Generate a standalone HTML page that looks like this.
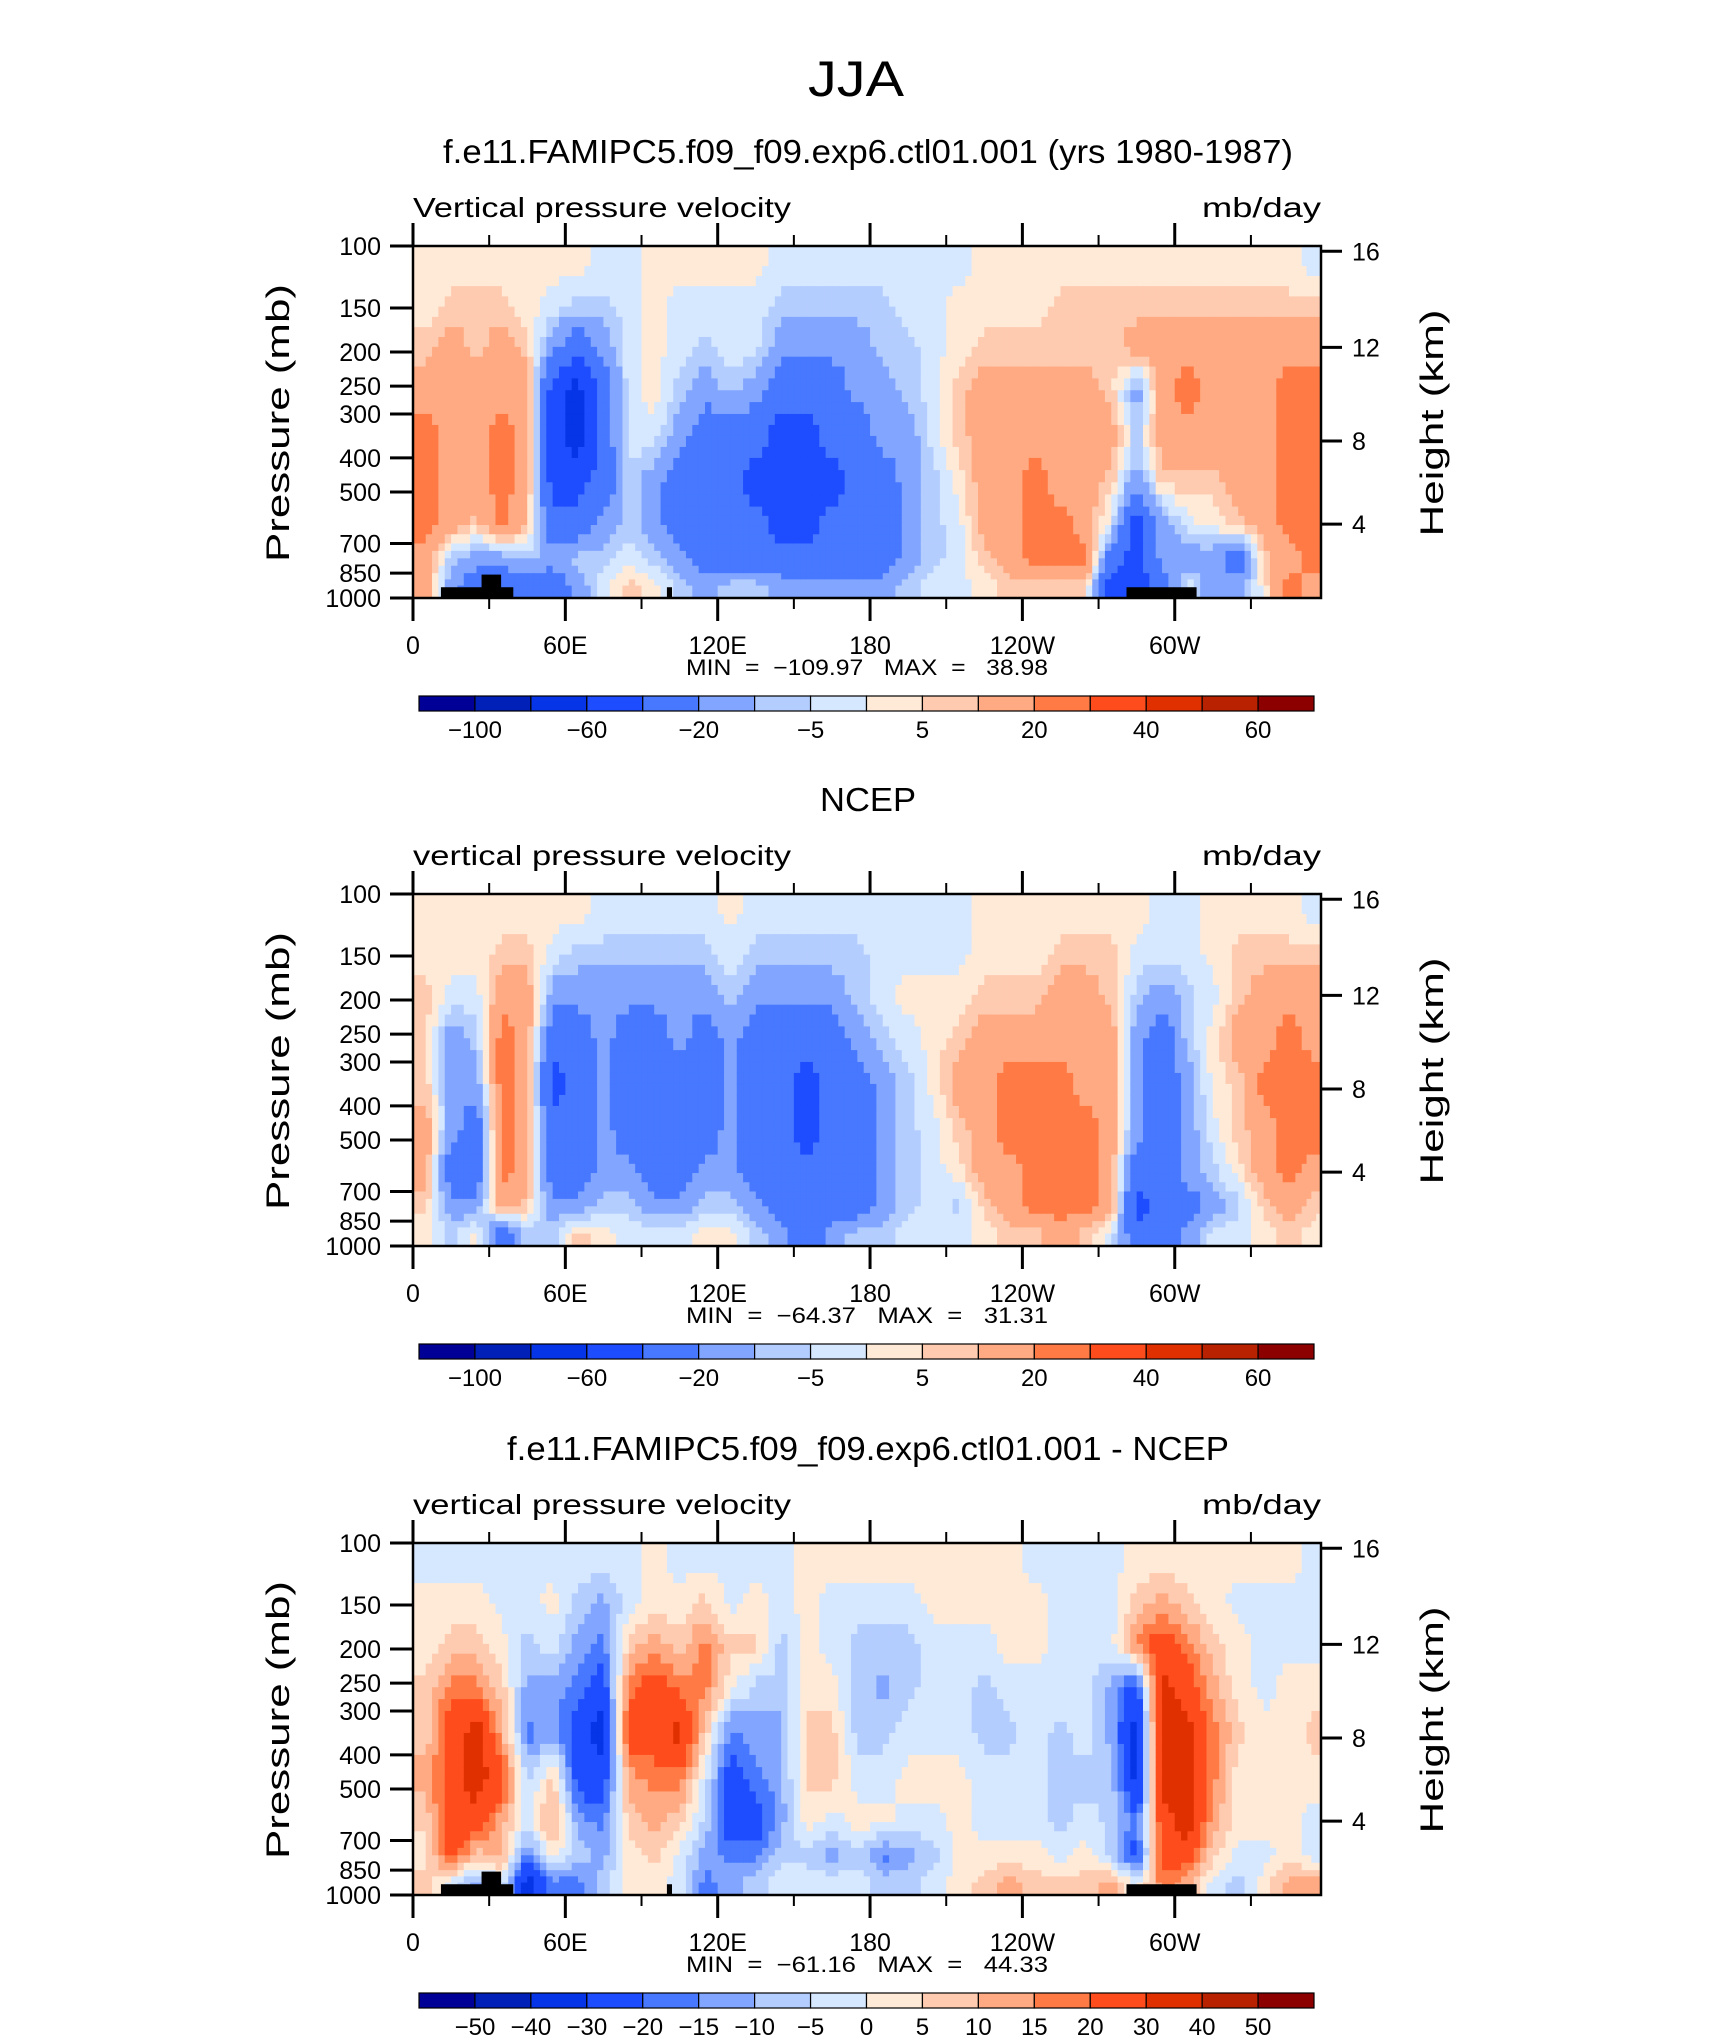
<!DOCTYPE html>
<html><head><meta charset="utf-8"><title>JJA vertical pressure velocity</title>
<style>
html,body{margin:0;padding:0;background:#fff;}
svg{display:block;font-family:"Liberation Sans",sans-serif;}
</style></head>
<body>
<svg id="fig" width="1710" height="2038" viewBox="0 0 1710 2038" xmlns="http://www.w3.org/2000/svg">
<rect x="0" y="0" width="1710" height="2038" fill="#fff"/>
<text x="856" y="96" font-size="50" text-anchor="middle" textLength="96" lengthAdjust="spacingAndGlyphs">JJA</text>
</svg>
<script>
const lonCenters = [5,15,25,35,45,55,65,75,85,95,105,115,125,135,145,155,165,175,185,195,205,215,225,235,245,255,265,275,285,295,305,315,325,335,345,355];
const pressureEdges = [100,130,170,220,300,400,550,700,850,1000];
const pressureTicks = [100,150,200,250,300,400,500,700,850,1000];
const heightTicks = [16,12,8,4];
const heightTickFrac = [0.015,0.288,0.554,0.79];
const lonTicks = [0,60,120,180,240,300];
const lonTickLabels = ['0','60E','120E','180','120W','60W'];
const lonMinorTicks = [30,90,150,210,270,330];
const levelsAbs = [-100,-80,-60,-40,-20,-10,-5,0,5,10,20,30,40,50,60];
const levelsAbsLabels = ['-100','-60','-20','-5','5','20','40','60'];
const levelsDiff = [-50,-40,-30,-20,-15,-10,-5,0,5,10,15,20,30,40,50];
const levelsDiffLabels = ['-50','-40','-30','-20','-15','-10','-5','0','5','10','15','20','30','40','50'];
const palette = ['#000096','#0020b8','#0535e6','#1e4cff','#4778ff','#82a6ff','#b4cdff','#d6e8ff','#ffead8','#ffcbb0','#ffaa82','#ff7a45','#ff4c1c','#e03000','#b82200','#8c0000'];

// column-major: each inner array = 9 pressure rows top (100mb) to bottom (1000mb)
const modelOmega = [
[2,2,7,15,25,25,25,15,15],[2,7,15,15,15,15,15,-7,-15],[2,7,7,15,15,15,7,-15,-30],[2,7,15,15,25,25,25,-15,-30],
[2,2,7,15,15,15,7,-7,-30],[2,-2,-15,-50,-50,-50,-30,-15,-30],[2,-7,-30,-70,-70,-50,-30,-7,-15],[-2,-7,-15,-30,-30,-30,-15,-7,-2],
[-2,-2,-2,-2,-2,-7,-7,-2,7],[2,2,2,2,-2,-15,-15,-7,2],[2,-2,-2,-7,-15,-30,-30,-15,-7],[2,-2,-7,-15,-30,-30,-30,-30,-15],
[2,-2,-2,-7,-30,-30,-30,-30,-7],[2,-2,-2,-15,-30,-50,-30,-30,-7],[-2,-7,-15,-30,-50,-50,-50,-30,-15],[-2,-7,-15,-30,-50,-50,-50,-30,-15],
[-2,-7,-15,-30,-30,-50,-30,-30,-15],[-2,-7,-15,-15,-30,-30,-30,-30,-15],[-2,-7,-7,-15,-15,-30,-30,-30,-15],[-2,-2,-7,-7,-15,-15,-15,-15,-7],
[-2,-2,-2,-2,-2,-7,-7,-7,-2],[-2,2,2,7,7,2,-2,-2,-2],[2,2,7,15,15,15,15,7,2],[2,2,7,15,15,15,15,15,7],
[2,2,7,15,15,25,25,25,7],[2,7,7,15,15,15,25,25,7],[2,7,7,15,15,15,15,25,7],[2,7,7,7,15,7,-2,-30,-50],
[2,7,15,-15,-7,-15,-50,-50,-50],[2,7,15,15,15,7,-15,-15,-30],[2,7,15,25,15,7,-2,-15,-2],[2,7,15,15,15,7,2,-15,-15],
[2,7,15,15,15,15,7,-30,-15],[2,7,15,15,15,15,15,7,2],[2,7,15,25,25,25,25,15,25],[-2,7,15,25,25,25,25,25,15]];
const ncepOmega = [
[2,2,7,7,7,15,15,7,2],[2,2,-2,-15,-15,-15,-30,-15,-7],[2,2,-2,-7,-15,-30,-30,-15,2],[2,7,15,25,25,25,25,15,-30],
[2,7,15,15,15,15,15,7,-7],[2,-2,-15,-30,-50,-30,-30,-15,-7],[2,-7,-15,-30,-30,-30,-30,-15,7],[-2,-7,-15,-15,-15,-15,-15,-7,2],
[-2,-7,-15,-30,-30,-30,-15,-7,-2],[-2,-7,-15,-30,-30,-30,-30,-15,-2],[-2,-7,-15,-15,-30,-30,-30,-15,-2],[-2,-7,-15,-30,-30,-30,-15,-7,2],
[2,-2,-7,-15,-15,-15,-15,-7,2],[-2,-7,-15,-30,-30,-30,-30,-15,-7],[-2,-7,-15,-30,-30,-30,-30,-30,-15],[-2,-7,-15,-30,-50,-50,-30,-30,-30],
[-2,-7,-15,-30,-30,-30,-30,-30,-15],[-2,-7,-7,-15,-30,-30,-30,-30,-7],[-2,-2,-2,-7,-15,-15,-15,-15,-7],[-2,-2,2,-2,-7,-7,-7,-7,-2],
[-2,-2,2,2,2,-2,-2,-2,-2],[-2,-2,2,7,15,7,2,-7,-2],[2,2,7,15,15,15,15,7,2],[2,2,7,15,25,25,15,15,7],
[2,2,7,15,25,25,25,25,7],[2,7,15,15,25,25,25,25,15],[2,7,15,15,15,25,25,25,7],[2,7,7,15,15,15,15,15,-2],
[2,-2,-7,-15,-15,-15,-30,-50,-30],[-2,-2,-15,-30,-30,-30,-30,-30,-30],[-2,-2,-7,-7,-15,-15,-15,-30,-15],[2,2,-2,2,2,-2,-7,-15,-2],
[2,7,7,15,7,7,2,-7,-2],[2,7,15,15,25,15,15,7,2],[2,7,15,25,25,25,25,15,7],[-2,7,15,15,25,25,15,7,2]];
const diffOmega = [
[-2,2,2,7,7,12,7,2,7],[-2,2,7,17,25,25,25,25,-2],[-2,2,7,17,35,35,25,7,-12],[-2,-2,2,7,12,25,12,12,-2],
[-2,-2,-7,-12,-17,-7,-2,-17,-35],[-2,2,-2,-12,-12,7,12,2,-17],[-2,-7,-12,-17,-25,-25,-12,-7,-17],[-2,-12,-17,-25,-35,-25,-17,-12,-7],
[-2,-2,7,17,25,12,7,2,2],[2,2,12,25,25,17,12,7,2],[-2,2,7,17,35,17,7,-2,-2],[-2,7,17,17,7,-2,-7,-12,-17],
[-2,-2,7,2,-17,-25,-25,-17,-12],[-2,2,7,-7,-12,-17,-25,-17,-7],[-2,-2,-7,-7,-12,-12,-12,-7,-2],[2,2,2,2,7,7,2,-7,-2],
[2,-2,-2,2,7,7,-2,-12,-2],[2,-2,-7,-7,-7,-2,2,-7,-2],[2,-2,-7,-12,-7,-2,2,-17,-7],[2,-2,-7,-7,-2,2,-2,-12,-7],
[2,2,-2,-2,-2,2,-2,-7,-2],[2,2,-2,-2,-2,2,2,2,2],[2,2,-2,-7,-7,-2,-2,2,7],[2,2,2,-2,-7,-2,-2,2,12],
[-2,2,2,-2,-2,-2,-2,2,7],[-2,-2,-2,-2,-7,-7,-7,-2,7],[-2,-2,-2,-2,-2,-7,-2,2,7],[-2,-2,-2,-12,-12,-7,-7,-7,12],
[2,7,17,-25,-35,-35,-17,-25,-2],[2,12,25,35,35,35,25,25,17],[2,7,17,25,35,35,35,25,12],[2,2,7,12,17,17,12,7,-2],
[2,-2,2,2,7,2,2,-2,-7],[2,-2,-2,-2,2,2,2,-2,2],[2,-2,-2,2,2,2,2,2,12],[-2,-2,-2,2,7,2,-2,-2,12]];
// topography blocks: [lon start, lon end, top pressure]
const topoLon0 = [11,27,100,281];
const topoLon1 = [39.5,34.7,102,308.6];
const topoTopP = [932,858,932,932];

const NS='http://www.w3.org/2000/svg';
const svg=document.getElementById('fig');
const PL=413, PR=1321, PH=352, LONMAX=357.6;
function mk(tag,attrs,parent){const e=document.createElementNS(NS,tag);for(const k in attrs)e.setAttribute(k,attrs[k]);(parent||svg).appendChild(e);return e;}
function xS(lon){return PL+(lon/LONMAX)*(PR-PL);}
function yS(p,top){return top+(Math.log10(p)-2)*PH;}
function cls(v,levels){let i=0;while(i<levels.length&&v>=levels[i])i++;return i;}
const rowCenterLog=[];for(let r=0;r<9;r++)rowCenterLog.push((Math.log10(pressureEdges[r])+Math.log10(pressureEdges[r+1]))/2);
function sample(data,lon,lp){
  let fx=(lon-lonCenters[0])/(lonCenters[1]-lonCenters[0]);fx=Math.max(0,Math.min(lonCenters.length-1,fx));
  let c0=Math.min(Math.floor(fx),lonCenters.length-2),tx=fx-c0;
  let r0=0;while(r0<7&&lp>rowCenterLog[r0+1])r0++;
  let ty=(lp-rowCenterLog[r0])/(rowCenterLog[r0+1]-rowCenterLog[r0]);ty=Math.max(0,Math.min(1,ty));
  const a=data[c0][r0],b=data[c0+1][r0],c=data[c0][r0+1],d=data[c0+1][r0+1];
  return (a*(1-tx)+b*tx)*(1-ty)+(c*(1-tx)+d*tx)*ty;
}
function txt(x,y,s,size,anchor,name,parent,extra){
  const t=mk('text',Object.assign({x:x,y:y,'font-size':size,'text-anchor':anchor||'start'},extra||{}),parent);
  t.textContent=s;
  
  
  return t;
}
function panel(top,data,levels,title,titleLen,varName,minmax,cbLabels,cbEvery,topo,key){
  const g=mk('g',{});
  
  
  txt(868,top-83,title,33,'middle',key+'-title',g,{textLength:titleLen,lengthAdjust:'spacingAndGlyphs'});
  txt(PL,top-29,varName,28,'start',key+'-variable-label',g,{textLength:378,lengthAdjust:'spacingAndGlyphs'});
  txt(PR,top-29,'mb/day',28,'end',key+'-units-label',g,{textLength:119,lengthAdjust:'spacingAndGlyphs'});
  const field=mk('g',{},g);
  
  
  const SUB=4;
  for(let c=0;c<lonCenters.length;c++){
    const l0=lonCenters[c]-5,l1=Math.min(lonCenters[c]+5,LONMAX);
    for(let r=0;r<9;r++){
      const lpa=Math.log10(pressureEdges[r]),lpb=Math.log10(pressureEdges[r+1]);
      for(let i=0;i<SUB;i++)for(let j=0;j<SUB;j++){
        const la=l0+(l1-l0)*i/SUB,lb=l0+(l1-l0)*(i+1)/SUB;
        const pa=lpa+(lpb-lpa)*j/SUB,pb=lpa+(lpb-lpa)*(j+1)/SUB;
        const v=sample(data,(la+lb)/2,(pa+pb)/2);
        const x0=xS(la),x1=xS(lb),y0=top+(pa-2)*PH,y1=top+(pb-2)*PH;
        const rc=mk('rect',{x:x0.toFixed(2),y:y0.toFixed(2),width:(x1-x0+0.6).toFixed(2),height:(y1-y0+0.6).toFixed(2),fill:palette[cls(v,levels)]},field);
        
        
      }
    }
  }
  if(topo){
    for(let k=0;k<topoLon0.length;k++){
      const y0=yS(topoTopP[k],top);
      const b=mk('rect',{x:xS(topoLon0[k]),y:y0,width:xS(topoLon1[k])-xS(topoLon0[k]),height:top+PH-y0,fill:'#000'},g);
      
      
    }
  }
  const frame=mk('rect',{x:PL,y:top,width:PR-PL,height:PH,fill:'none',stroke:'#000','stroke-width':2.5},g);
  
  
  pressureTicks.forEach(p=>{
    const y=yS(p,top);
    const t=mk('line',{x1:PL-23,x2:PL,y1:y,y2:y,stroke:'#000','stroke-width':3},g);
    
    
    txt(381,y+9,String(p),25,'end','pressure-tick-label',g);
  });
  heightTicks.forEach((h,i)=>{
    const y=top+heightTickFrac[i]*PH;
    const t=mk('line',{x1:PR,x2:PR+21,y1:y,y2:y,stroke:'#000','stroke-width':3},g);
    
    
    txt(PR+31,y+9,String(h),25,'start','height-tick-label',g);
  });
  txt(0,0,'Pressure (mb)',32,'middle',key+'-y-axis-title',g,{textLength:278,lengthAdjust:'spacingAndGlyphs',transform:'translate(289,'+(top+177)+') rotate(-90)'});
  txt(0,0,'Height (km)',32,'middle',key+'-right-axis-title',g,{textLength:227,lengthAdjust:'spacingAndGlyphs',transform:'translate(1443,'+(top+177)+') rotate(-90)'});
  lonTicks.forEach((l,i)=>{
    const x=xS(l);
    const a=mk('line',{x1:x,x2:x,y1:top-23,y2:top,stroke:'#000','stroke-width':3},g);
    
    
    const b=mk('line',{x1:x,x2:x,y1:top+PH,y2:top+PH+23,stroke:'#000','stroke-width':3},g);
    
    
    txt(x,top+408,lonTickLabels[i],25,'middle','lon-tick-label',g);
  });
  lonMinorTicks.forEach(l=>{
    const x=xS(l);
    const a=mk('line',{x1:x,x2:x,y1:top-11,y2:top,stroke:'#000','stroke-width':2},g);
    
    
    const b=mk('line',{x1:x,x2:x,y1:top+PH,y2:top+PH+11,stroke:'#000','stroke-width':2},g);
    
    
  });
  txt(867,top+429,minmax,22,'middle',key+'-min-max-label',g,{textLength:362,lengthAdjust:'spacingAndGlyphs',style:'white-space:pre'});
  const cx0=419,cx1=1314,cy=top+450,chh=15,bw=(cx1-cx0)/16;
  for(let i=0;i<16;i++){
    const r=mk('rect',{x:cx0+i*bw,y:cy,width:bw,height:chh,fill:palette[i],stroke:'#000','stroke-width':1.2},g);
    
    
  }
  cbLabels.forEach((s,i)=>{
    const bi=cbEvery===2?1+2*i:1+i;
    txt(cx0+bi*bw,cy+42,s.replace('-','\u2212'),24,'middle','colorbar-label',g);
  });
}
panel(246,modelOmega,levelsAbs,'f.e11.FAMIPC5.f09_f09.exp6.ctl01.001 (yrs 1980-1987)',850,'Vertical pressure velocity','MIN  =  \u2212109.97   MAX  =   38.98',levelsAbsLabels,2,true,'model');
panel(894,ncepOmega,levelsAbs,'NCEP',96,'vertical pressure velocity','MIN  =  \u221264.37   MAX  =   31.31',levelsAbsLabels,2,false,'ncep');
panel(1543,diffOmega,levelsDiff,'f.e11.FAMIPC5.f09_f09.exp6.ctl01.001 - NCEP',722,'vertical pressure velocity','MIN  =  \u221261.16   MAX  =   44.33',levelsDiffLabels,1,true,'diff');
</script>
</body></html>
